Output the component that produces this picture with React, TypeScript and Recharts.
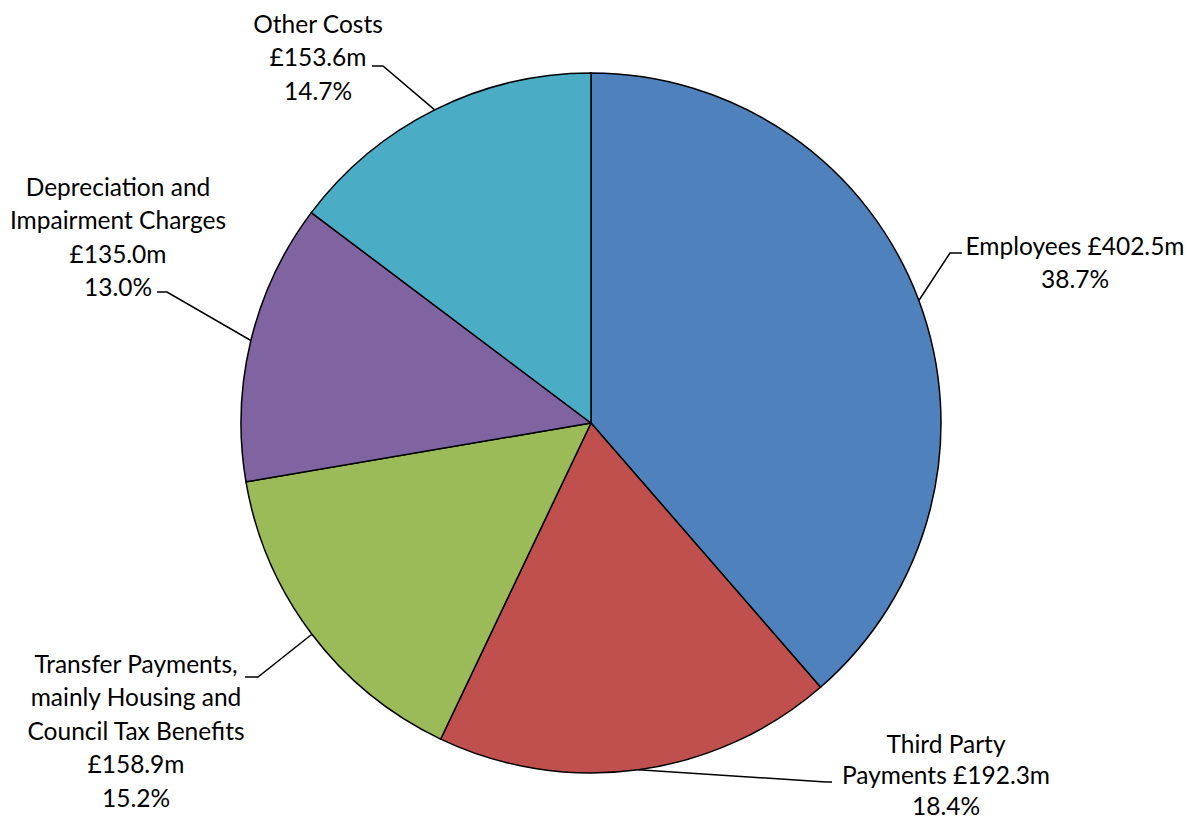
import { PieChart, Pie, Cell } from 'recharts';

const categories = [
  'Employees',
  'Third Party Payments',
  'Transfer Payments, mainly Housing and Council Tax Benefits',
  'Depreciation and Impairment Charges',
  'Other Costs',
];
const amounts = [402.5, 192.3, 158.9, 135.0, 153.6];
const shares = [38.7, 18.4, 15.2, 13.0, 14.7];

// how each label is broken into lines (amount / share filled in)
const labelLines = [
  ['Employees {amt}', '{pct}'],
  ['Third Party', 'Payments {amt}', '{pct}'],
  ['Transfer Payments,', 'mainly Housing and', 'Council Tax Benefits', '{amt}', '{pct}'],
  ['Depreciation and', 'Impairment Charges', '{amt}', '{pct}'],
  ['Other Costs', '{amt}', '{pct}'],
];

const colors = ['#4F81BD', '#C0504D', '#9BBB59', '#8064A2', '#4BACC6'];

// label placement relative to pie centre: leader elbow, leader end, text centre x, first line y, line gap
const labelLayout = [
  { elbow: [359, -170], end: [371, -170], tx: 484, ty: -178, gap: 33.5 },
  { elbow: [235, 359], end: [241, 359], tx: 355, ty: 320, gap: 31 },
  { elbow: [-333, 254], end: [-346, 254], tx: -455, ty: 240, gap: 33.5 },
  { elbow: [-424, -131], end: [-434, -131], tx: -473, ty: -237, gap: 33.5 },
  { elbow: [-208, -357], end: [-219, -357], tx: -273, ty: -400, gap: 33.5 },
];

const data = categories.map((name, i) => ({
  name,
  value: amounts[i],
  share: shares[i],
}));

const RADIAN = Math.PI / 180;

const renderLabel = (props: any) => {
  const { cx, cy, midAngle, outerRadius, index } = props;
  const lay = labelLayout[index];
  const sx = cx + outerRadius * Math.cos(-midAngle * RADIAN);
  const sy = cy + outerRadius * Math.sin(-midAngle * RADIAN);
  const lines = labelLines[index].map((l) =>
    l.replace('{amt}', `£${amounts[index].toFixed(1)}m`).replace('{pct}', `${shares[index].toFixed(1)}%`)
  );
  return (
    <g>
      <polyline
        points={`${sx},${sy} ${cx + lay.elbow[0]},${cy + lay.elbow[1]} ${cx + lay.end[0]},${cy + lay.end[1]}`}
        fill="none"
        stroke="#000"
        strokeWidth={1.5}
      />
      {lines.map((line, j) => (
        <text
          key={j}
          x={cx + lay.tx}
          y={cy + lay.ty + j * lay.gap}
          textAnchor="middle"
          dominantBaseline="central"
          fill="#000"
          fontSize={24.5}
          fontFamily="Lato, 'Liberation Sans', sans-serif"
        >
          {line}
        </text>
      ))}
    </g>
  );
};

export default function App() {
  return (
    <div style={{ position: 'absolute', left: 0, top: 0, width: 1187, height: 820, background: '#fff' }}>
      <PieChart width={1187} height={820} margin={{ top: 0, right: 0, bottom: 0, left: 0 }}>
        <Pie
          data={data}
          dataKey="value"
          nameKey="name"
          cx={591}
          cy={423}
          outerRadius={350}
          startAngle={90}
          endAngle={-270}
          stroke="#000"
          strokeWidth={1.5}
          label={renderLabel}
          labelLine={false}
          isAnimationActive={false}
        >
          {data.map((d, i) => (
            <Cell key={d.name} fill={colors[i]} />
          ))}
        </Pie>
      </PieChart>
    </div>
  );
}
